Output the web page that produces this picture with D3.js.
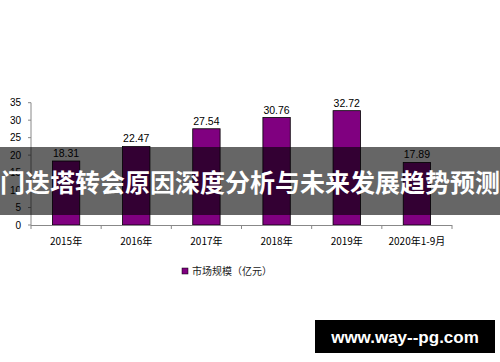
<!DOCTYPE html>
<html>
<head>
<meta charset="utf-8">
<script src="https://cdn.jsdelivr.net/npm/d3@7"></script>
<style>
  body { margin: 0; background: #fff; }
  text { font-family: "Liberation Sans", Arial, "Noto Sans CJK SC", sans-serif; }
  .cjk { font-family: "Noto Sans CJK SC", sans-serif; }
</style>
</head>
<body>
<svg id="chart" width="500" height="362"></svg>
<script>
var categories = ['2015年', '2016年', '2017年', '2018年', '2019年', '2020年1-9月'];
var values = [18.31, 22.47, 27.54, 30.76, 32.72, 17.89];
var yTicks = [0, 5, 10, 15, 20, 25, 30, 35];
var legendLabel = '市场规模（亿元）';
var title = '门迭塔转会原因深度分析与未来发展趋势预测';
var watermark = 'www.way--pg.com';

var svg = d3.select('#chart');

var x = d3.scaleBand().domain(categories).range([31, 452]).paddingInner(0.61).paddingOuter(0.305);
var y = d3.scaleLinear().domain([0, 35]).range([225, 102.7]);

// y axis
svg.append('line')
  .attr('x1', 31).attr('x2', 31)
  .attr('y1', y(0)).attr('y2', y(35))
  .attr('stroke', '#888').attr('stroke-width', 1);
svg.selectAll('.ytick').data(yTicks).enter()
  .append('line')
    .attr('x1', 28).attr('x2', 31)
    .attr('y1', function (d) { return y(d); })
    .attr('y2', function (d) { return y(d); })
    .attr('stroke', '#888');
svg.selectAll('.ylabel').data(yTicks).enter()
  .append('text')
    .attr('x', 21)
    .attr('y', function (d) { return y(d) + 3.5; })
    .attr('text-anchor', 'end')
    .attr('font-size', 10)
    .attr('fill', '#000')
    .text(function (d) { return d; });

// bars
svg.selectAll('.bar').data(values).enter()
  .append('rect')
    .attr('x', function (d, i) { return x(categories[i]); })
    .attr('width', x.bandwidth())
    .attr('y', function (d) { return y(d); })
    .attr('height', function (d) { return y(0) - y(d); })
    .attr('fill', '#800080')
    .attr('stroke', '#000')
    .attr('stroke-width', 0.8);

// x axis
svg.append('line')
  .attr('x1', 31).attr('x2', 452)
  .attr('y1', y(0) + 0.5).attr('y2', y(0) + 0.5)
  .attr('stroke', '#888');
var step = x.step();
svg.selectAll('.xtick').data(d3.range(categories.length + 1)).enter()
  .append('line')
    .attr('x1', function (d) { return 31 + d * step; })
    .attr('x2', function (d) { return 31 + d * step; })
    .attr('y1', y(0)).attr('y2', y(0) + 4)
    .attr('stroke', '#888');
svg.selectAll('.xlabel').data(categories).enter()
  .append('text')
    .attr('class', 'cjk')
    .attr('x', function (d) { return x(d) + x.bandwidth() / 2; })
    .attr('y', 245)
    .attr('text-anchor', 'middle')
    .attr('font-size', 10)
    .text(function (d) { return d; });

// value labels
svg.selectAll('.vlabel').data(values).enter()
  .append('text')
    .attr('x', function (d, i) { return x(categories[i]) + x.bandwidth() / 2; })
    .attr('y', function (d) { return y(d) - 4; })
    .attr('text-anchor', 'middle')
    .attr('font-size', 10.5)
    .text(function (d) { return d.toFixed(2); });

// legend
svg.append('rect')
  .attr('x', 182).attr('y', 268).attr('width', 6).attr('height', 6)
  .attr('fill', '#800080').attr('stroke', '#000').attr('stroke-width', 0.5);
svg.append('text')
  .attr('class', 'cjk')
  .attr('x', 192).attr('y', 275)
  .attr('font-size', 10)
  .attr('fill', '#222')
  .text(legendLabel);

// title overlay
svg.append('rect')
  .attr('x', 0).attr('y', 147).attr('width', 500).attr('height', 68)
  .attr('fill', '#000').attr('fill-opacity', 0.6);
svg.append('text')
  .attr('class', 'cjk')
  .attr('x', 250).attr('y', 192)
  .attr('text-anchor', 'middle')
  .attr('font-size', 25)
  .attr('font-weight', 'bold')
  .attr('fill', '#fff')
  .text(title);

// watermark
svg.append('rect')
  .attr('x', 315).attr('y', 320).attr('width', 180).attr('height', 33)
  .attr('fill', '#000');
svg.append('text')
  .attr('x', 405).attr('y', 343)
  .attr('text-anchor', 'middle')
  .attr('font-size', 17)
  .attr('font-weight', 'bold')
  .attr('fill', '#fff')
  .text(watermark);
</script>
</body>
</html>
